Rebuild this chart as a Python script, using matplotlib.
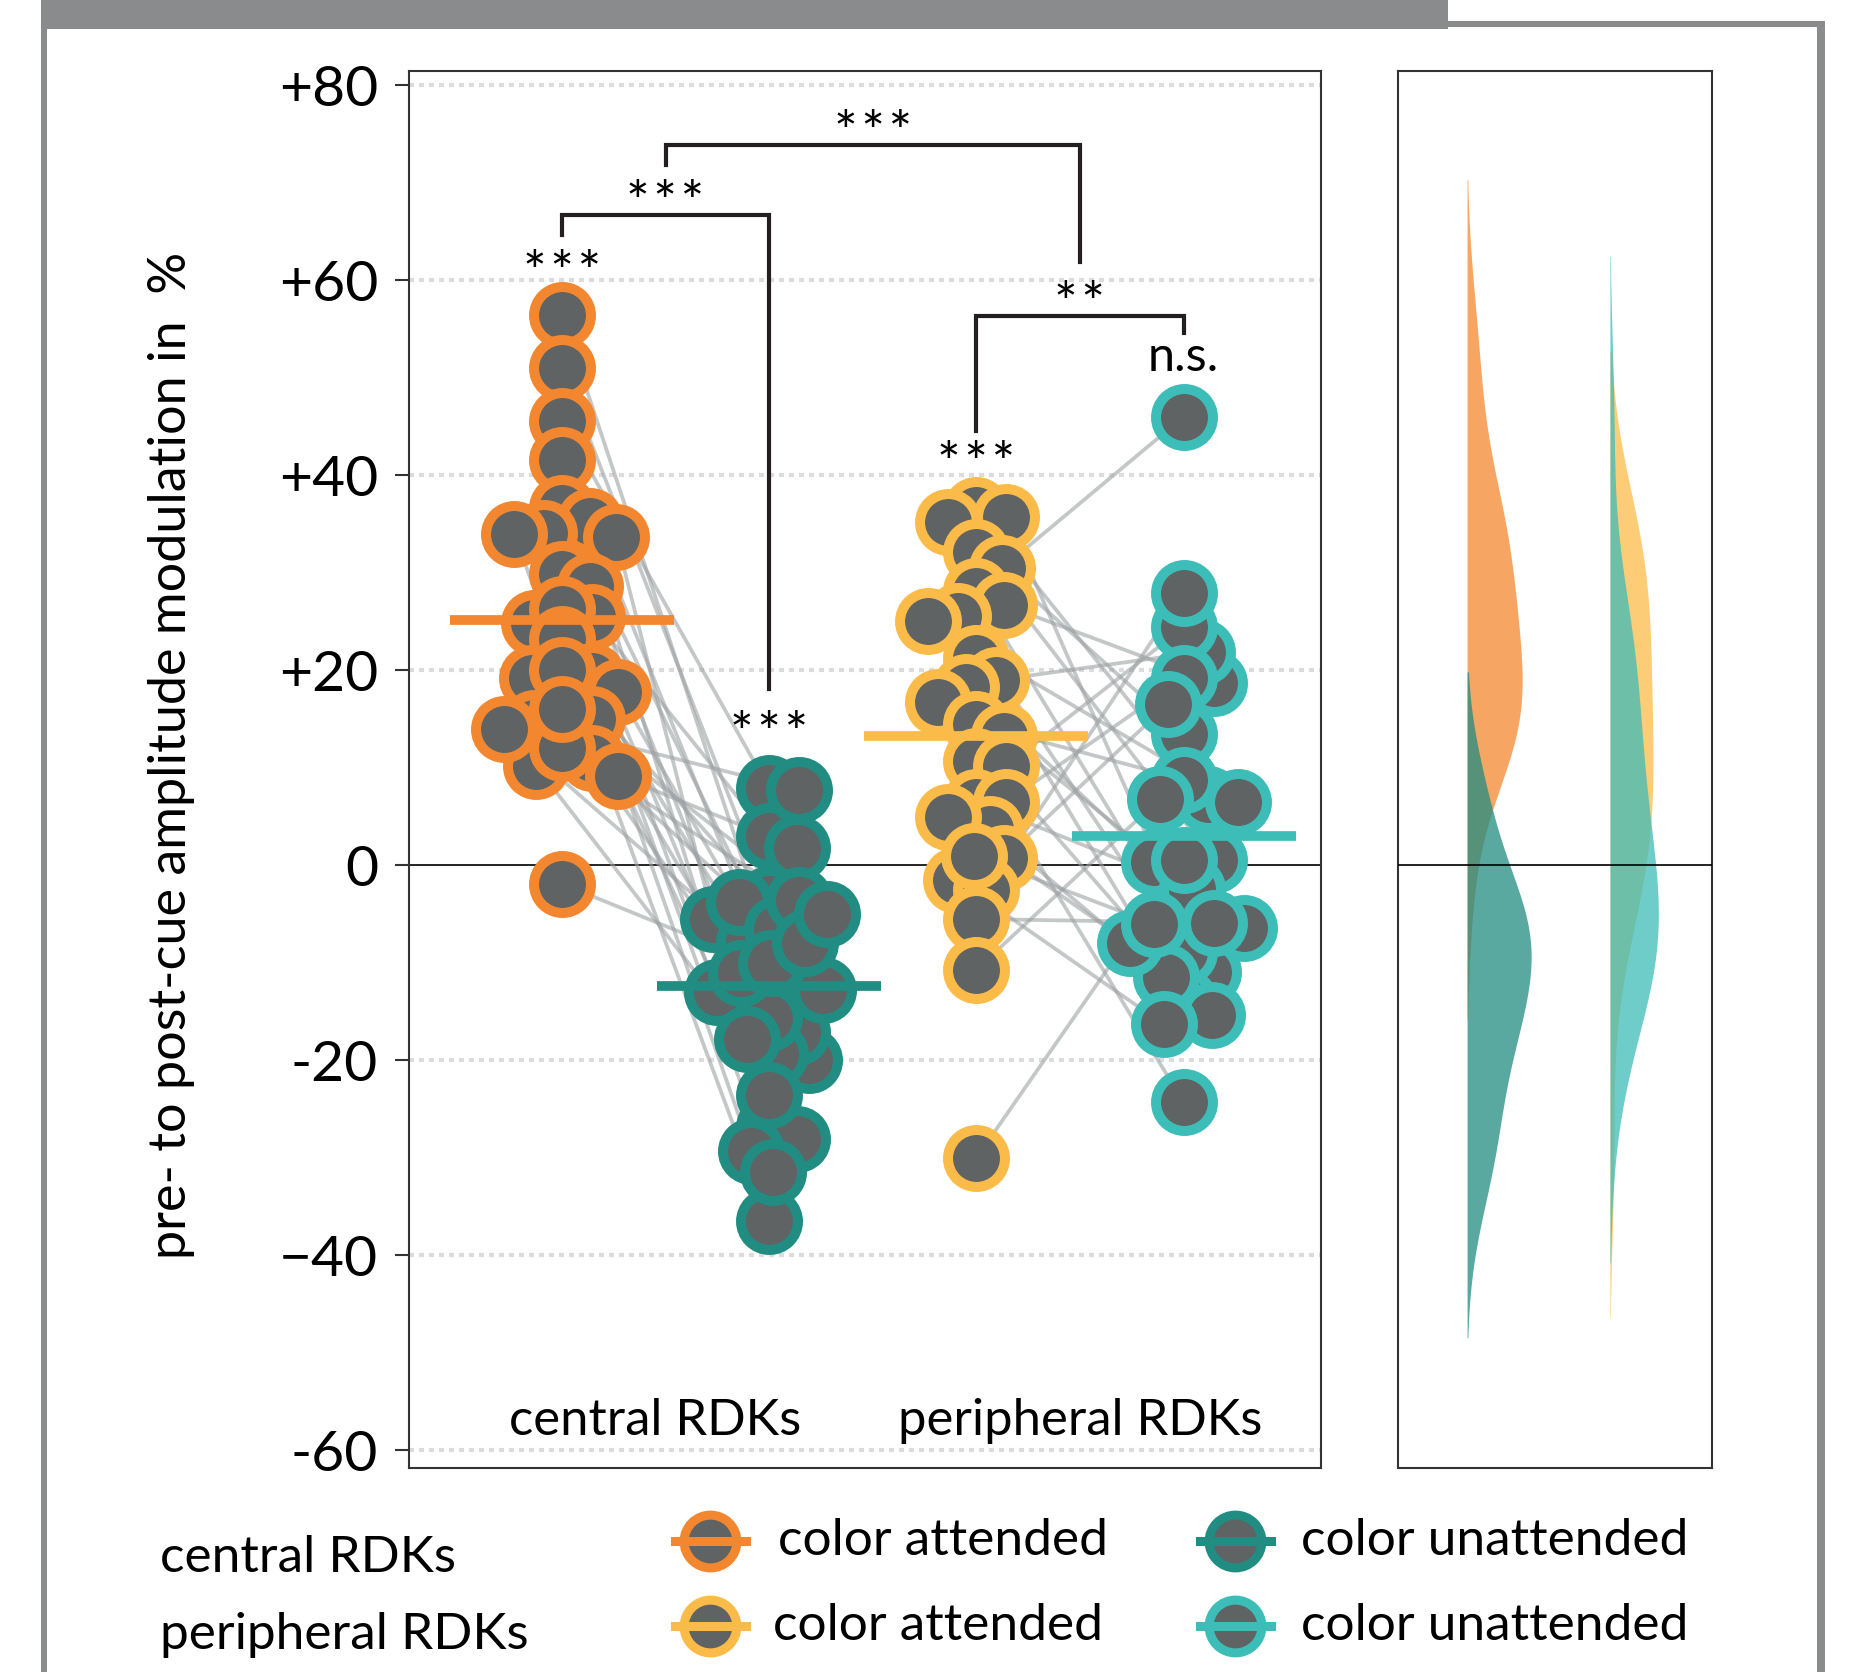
"""
Paired amplitude-modulation plot: central / peripheral RDKs, attended vs unattended,
with half-violin densities on the right.
"""

import numpy as np
import matplotlib
matplotlib.use("Agg")
import matplotlib.pyplot as plt
from matplotlib.patches import Rectangle

plt.rcParams["font.family"] = ["Lato", "DejaVu Sans"]

# =============================================================================
# DATA (one value per subject; same subject order within a pair)
# =============================================================================

central_att = [56.4, 51.0, 45.6, 41.6, 36.6, 35.3, 34.1, 33.7, 34.0, 29.9,
               28.6, 25.5, 24.9, 26.3, 23.2, 19.4, 19.2, 17.8, 15.0, 14.6,
               11.0, 10.2, 9.2, -1.9, 14.0, 12.0, 20.0, 16.0]
central_unatt = [-20.0, -3.5, 7.9, -26.8, -12.15, -17.1, -28.1, -5.5, -36.5, -13.0,
                 -19.3, 3.0, -15.7, -29.3, -7.9, -31.4, -11.0, -3.8, -23.5, 7.75,
                 -6.5, -17.8, 1.8, -12.8, -10.0, -3.6, -8.0, -5.0]
periph_att = [36.4, 35.7, 35.2, 32.1, 30.5, 28.1, 26.7, 25.6, 25.1, 21.3,
              19.0, 18.3, 16.8, 14.5, 13.3, 10.7, 10.2, 6.5, 6.5, 3.7,
              0.8, -1.5, -2.5, -5.5, -10.7, -30.0, 5.0, 1.0]
periph_unatt = [6.8, -5.6, 13.5, 0.6, 46.0, -10.9, 18.7, -8.9, 6.5, -13.9,
                21.9, 0.3, -15.3, 8.8, -6.4, -24.3, 24.4, -2.4, 19.2, -11.4,
                16.5, -16.3, 27.9, -5.9, 6.8, 0.6, -8.0, -6.0]

GROUPS = [central_att, central_unatt, periph_att, periph_unatt]
POSITIONS = [1, 2, 3, 4]
PAIRS = [(0, 1), (2, 3)]

YTICKS = [80, 60, 40, 20, 0, -20, -40, -60]
YTICKLABELS = ["+80", "+60", "+40", "+20", "0", "-20", "\u221240", "-60"]
CATEGORY_LABELS = ["central RDKs", "peripheral RDKs"]
YLABEL = "pre- to post-cue amplitude modulation in  %"
LEGEND_ROWS = ["central RDKs", "peripheral RDKs"]
LEGEND_COLS = ["color attended", "color unattended"]

# brackets: (x_left, x_right, y_bar, y_left_end, y_right_end)
BRACKETS = [(1.5, 3.5, 73.9, 71.8, 61.9),
            (1.0, 2.0, 66.7, 64.6, 18.1),
            (3.0, 4.0, 56.3, 44.5, 54.6)]
# significance labels: (x, y, text)
SIG_LABELS = [(2.5, 76.6, "***"), (1.5, 69.4, "***"), (1.0, 62.2, "***"),
              (2.0, 14.9, "***"), (3.5, 59.0, "**"), (3.0, 42.6, "***")]
NS_LABEL = (4.0, 52.1, "n.s.")

# =============================================================================
# STYLE
# =============================================================================

COLORS = ["#F3872F", "#218C82", "#FBBB48", "#3DBDB8"]
FILL = "#5F6363"
FRAME = "#8A8B8D"
INK = "#231F20"

W_PX, H_PX, DPI = 1857, 1672, 100
X_PX_PER_UNIT = 207.2
Y_PX_PER_UNIT = 9.751


def swarm_offsets(values, dmin=30.0):
    """Greedy beeswarm: x offsets (data units) so markers keep dmin px apart."""
    vals = np.asarray(values, dtype=float)
    cands = np.arange(0, 90, 2.0)
    cands = sorted(np.concatenate([cands, -cands[1:]]), key=abs)
    placed = []
    offs = np.zeros(len(vals))
    for i in np.argsort(-vals):
        yi = vals[i] * Y_PX_PER_UNIT
        for c in cands:
            if all((c - xo) ** 2 + (yi - yo) ** 2 >= dmin ** 2 for xo, yo in placed):
                break
        placed.append((c, yi))
        offs[i] = c / X_PX_PER_UNIT
    return offs


def kde(values):
    v = np.asarray(values, dtype=float)
    bw = v.std(ddof=1) * len(v) ** (-0.2)
    grid = np.linspace(v.min() - 2 * bw, v.max() + 2 * bw, 400)
    dens = np.exp(-0.5 * ((grid[:, None] - v[None, :]) / bw) ** 2).sum(1)
    dens /= len(v) * bw * np.sqrt(2 * np.pi)
    return grid, dens


def main():
    fig = plt.figure(figsize=(W_PX / DPI, H_PX / DPI), dpi=DPI)

    # ── outer frame ─────────────────────────────────────────────────────────
    def px_rect(x0, y0, x1, y1, color):
        fig.add_artist(Rectangle((x0 / W_PX, 1 - y1 / H_PX), (x1 - x0) / W_PX,
                                 (y1 - y0) / H_PX, transform=fig.transFigure,
                                 color=color, lw=0, zorder=0))

    px_rect(41, 0, 1448, 29, FRAME)
    px_rect(41, 0, 47, H_PX, FRAME)
    px_rect(1448, 21, 1825, 27, FRAME)
    px_rect(1817, 21, 1825, H_PX, FRAME)

    # ── main axes ───────────────────────────────────────────────────────────
    ax = fig.add_axes([408.8 / W_PX, 1 - 1468 / H_PX,
                       (1321 - 408.8) / W_PX, (1468 - 71) / H_PX])
    ax.set_xlim(0.261, 4.663)
    ax.set_ylim(-61.8, 81.46)

    for y in YTICKS:
        if y != 0:
            ax.axhline(y, color="#DCDCDC", lw=3, ls=(0, (1.2, 1.2)), zorder=0)
    ax.axhline(0, color="black", lw=1.2, zorder=1.5)

    offsets = [swarm_offsets(g) for g in GROUPS]
    xs = [p + o for p, o in zip(POSITIONS, offsets)]

    for a, b in PAIRS:
        for xa, ya, xb, yb in zip(xs[a], GROUPS[a], xs[b], GROUPS[b]):
            ax.plot([xa, xb], [ya, yb], color="#9EA2A4", alpha=0.6, lw=2.7,
                    zorder=2, solid_capstyle="round")

    for g, x, c, p in zip(GROUPS, xs, COLORS, POSITIONS):
        ax.scatter(x, g, s=41 ** 2, facecolor=FILL, edgecolor=c,
                   linewidths=7.2, zorder=3)
        ax.hlines(np.mean(g), p - 0.54, p + 0.54, color=c, lw=7, zorder=4)

    for x0, x1, yb, yl, yr in BRACKETS:
        ax.plot([x0, x0, x1, x1], [yl, yb, yb, yr], color=INK, lw=3,
                solid_joinstyle="miter", zorder=2.5)
    # asterisks sit high in the glyph box, so anchor on the baseline and drop;
    # hair spaces widen the star spacing a little
    for x, y, s in SIG_LABELS:
        ax.text(x, y - 3.3, "\u200a".join(s), ha="center", va="baseline",
                fontsize=40, color="black", zorder=5)
    ax.text(NS_LABEL[0], NS_LABEL[1], NS_LABEL[2], ha="center", va="center",
            fontsize=35, color="black", zorder=5)

    ax.text(1.45, -57.0, CATEGORY_LABELS[0], ha="center", va="center", fontsize=36.5)
    ax.text(3.5, -57.0, CATEGORY_LABELS[1], ha="center", va="center", fontsize=36.5)

    ax.set_xticks([])
    ax.set_yticks(YTICKS)
    ax.set_yticklabels(YTICKLABELS)
    ax.tick_params(axis="y", length=10, width=1.5, color="#333333", pad=12,
                   labelsize=41)
    for sp in ax.spines.values():
        sp.set_color("#333333")
        sp.set_linewidth(1.5)

    fig.text(172 / W_PX, 1 - 755 / H_PX, YLABEL, rotation=90, ha="center",
             va="center", fontsize=37.5)

    # ── density axes ───────────────────────────────────────────────────────
    dax = fig.add_axes([1398 / W_PX, 1 - 1468 / H_PX,
                        (1712 - 1398) / W_PX, (1468 - 71) / H_PX])
    dax.set_xlim(0, 1)
    dax.set_ylim(-61.8, 81.46)
    dax.axhline(0, color="black", lw=1.2, zorder=3)
    bases = [0.22, 0.22, 0.675, 0.675]
    curves = [kde(g) for g in GROUPS]
    scale = 0.204 / max(d.max() for _, d in curves)
    for (grid, dens), base, c in zip(curves, bases, COLORS):
        dax.fill_betweenx(grid, base, base + dens * scale, color=c, alpha=0.75,
                          lw=0, zorder=2)
    dax.set_xticks([])
    dax.set_yticks([])
    for sp in dax.spines.values():
        sp.set_color("#333333")
        sp.set_linewidth(1.5)

    # ── legend ──────────────────────────────────────────────────────────────
    lax = fig.add_axes([0, 0, 1, 1])
    lax.set_xlim(0, 1)
    lax.set_ylim(0, 1)
    lax.axis("off")

    row_y = [1 - 1541 / H_PX, 1 - 1626 / H_PX]
    row_text_y = [1 - 1572 / H_PX, 1 - 1649 / H_PX]
    col_x = [710 / W_PX, 1235 / W_PX]
    col_text_x = [[778 / W_PX, 1301 / W_PX], [773 / W_PX, 1301 / W_PX]]
    dx = 35.5 / W_PX
    for r, row in enumerate(LEGEND_ROWS):
        lax.text(160 / W_PX, row_text_y[r], row, ha="left", va="baseline",
                 fontsize=37)
        for k, col in enumerate(LEGEND_COLS):
            c = COLORS[2 * r + k]
            lax.plot(col_x[k], row_y[r], marker="o", ms=38, mew=6.5, mfc=FILL,
                     mec=c, ls="none")
            lax.plot([col_x[k] - dx, col_x[k] + dx], [row_y[r]] * 2, color=c,
                     lw=6.5)
            lax.text(col_text_x[r][k], row_y[r], col, ha="left", va="center",
                     fontsize=37)

    fig.savefig("out.png", dpi=DPI)
    plt.close(fig)


if __name__ == "__main__":
    main()
